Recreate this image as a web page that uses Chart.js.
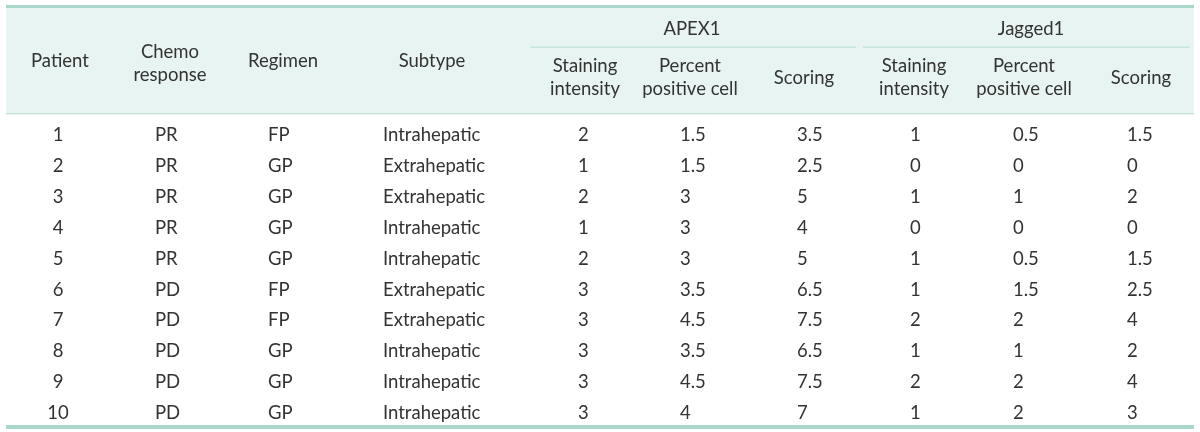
<!DOCTYPE html>
<html>
<head>
<meta charset="utf-8">
<script src="https://cdn.jsdelivr.net/npm/chart.js@4.4.1/dist/chart.umd.min.js"></script>
<style>
  html, body { margin: 0; padding: 0; background: #fff; }
  #wrap { width: 1200px; height: 432px; position: relative; }
</style>
</head>
<body>
<div id="wrap"><canvas id="tbl"></canvas></div>
<script>
// table data
const patients = ['1', '2', '3', '4', '5', '6', '7', '8', '9', '10'];
const chemoResponse = ['PR', 'PR', 'PR', 'PR', 'PR', 'PD', 'PD', 'PD', 'PD', 'PD'];
const regimen = ['FP', 'GP', 'GP', 'GP', 'GP', 'FP', 'FP', 'GP', 'GP', 'GP'];
const subtype = ['Intrahepatic', 'Extrahepatic', 'Extrahepatic', 'Intrahepatic', 'Intrahepatic',
                 'Extrahepatic', 'Extrahepatic', 'Intrahepatic', 'Intrahepatic', 'Intrahepatic'];
const apexStaining = [2, 1, 2, 1, 2, 3, 3, 3, 3, 3];
const apexPercent = [1.5, 1.5, 3, 3, 3, 3.5, 4.5, 3.5, 4.5, 4];
const apexScoring = [3.5, 2.5, 5, 4, 5, 6.5, 7.5, 6.5, 7.5, 7];
const jagStaining = [1, 0, 1, 0, 1, 1, 2, 1, 2, 1];
const jagPercent = [0.5, 0, 1, 0, 0.5, 1.5, 2, 1, 2, 2];
const jagScoring = [1.5, 0, 2, 0, 1.5, 2.5, 4, 2, 4, 3];

const groupLabels = ['APEX1', 'Jagged1'];

// layout (pixel units of the hidden scales)
const FONT = '18.5px Lato';
const TXT = '#333333';
const ROW0 = 141, ROWH = 30.9;
const rowY = i => ROW0 + i * ROWH;

// columns: values, anchor x, alignment
const columns = [
  { values: patients, x: 58, align: 'center', head: ['Patient'], hx: 60 },
  { values: chemoResponse, x: 155, align: 'left', head: ['Chemo', 'response'], hx: 170 },
  { values: regimen, x: 268, align: 'left', head: ['Regimen'], hx: 283 },
  { values: subtype, x: 383, align: 'left', head: ['Subtype'], hx: 432 },
  { values: apexStaining, x: 578, align: 'left', head: ['Staining', 'intensity'], hx: 585 },
  { values: apexPercent, x: 680, align: 'left', head: ['Percent', 'positive cell'], hx: 690 },
  { values: apexScoring, x: 797, align: 'left', head: ['Scoring'], hx: 804 },
  { values: jagStaining, x: 910, align: 'left', head: ['Staining', 'intensity'], hx: 914 },
  { values: jagPercent, x: 1013, align: 'left', head: ['Percent', 'positive cell'], hx: 1024 },
  { values: jagScoring, x: 1127, align: 'left', head: ['Scoring'], hx: 1141 }
];

const datasets = columns.map(col => ({
  data: col.values.map((v, i) => ({ x: col.x, y: rowY(i), label: String(v) })),
  align: col.align,
  pointRadius: 0,
  pointHoverRadius: 0
}));

// background, rules and header
const tablePlugin = {
  id: 'tablePlugin',
  beforeDatasetsDraw(chart) {
    const ctx = chart.ctx;
    const xs = chart.scales.x, ys = chart.scales.y;
    const px = v => xs.getPixelForValue(v);
    const py = v => ys.getPixelForValue(v);
    ctx.save();
    // header band
    ctx.fillStyle = '#e7f4f1';
    ctx.fillRect(px(6), py(8), px(1194) - px(6), py(113) - py(8));
    // thick top / bottom rules
    ctx.fillStyle = '#a9d7cb';
    ctx.fillRect(px(6), py(5), px(1194) - px(6), 3);
    ctx.fillRect(px(6), py(425), px(1194) - px(6), 4);
    // header bottom rule
    ctx.fillStyle = '#c5e4dc';
    ctx.fillRect(px(6), py(113), px(1194) - px(6), 1.5);
    // group sub rules
    ctx.fillRect(px(530), py(46.5), px(856) - px(530), 1.5);
    ctx.fillRect(px(863), py(46.5), px(1190) - px(863), 1.5);

    ctx.fillStyle = TXT;
    ctx.font = FONT;
    ctx.textAlign = 'center';
    ctx.textBaseline = 'alphabetic';
    ctx.fillText(groupLabels[0], px(692), py(35));
    ctx.fillText(groupLabels[1], px(1031), py(35));
    columns.forEach(col => {
      if (col.head.length === 2) {
        const b = col.x < 300 ? 58 : 72;
        ctx.fillText(col.head[0], px(col.hx), py(b));
        ctx.fillText(col.head[1], px(col.hx), py(b + 23));
      } else {
        const b = col.x > 500 ? 84 : 67;
        ctx.fillText(col.head[0], px(col.hx), py(b));
      }
    });
    ctx.restore();
  },
  afterDatasetsDraw(chart) {
    const ctx = chart.ctx;
    ctx.save();
    ctx.fillStyle = TXT;
    ctx.font = FONT;
    ctx.textBaseline = 'alphabetic';
    chart.data.datasets.forEach((ds, di) => {
      ctx.textAlign = ds.align;
      chart.getDatasetMeta(di).data.forEach((pt, i) => {
        ctx.fillText(ds.data[i].label, pt.x, pt.y);
      });
    });
    ctx.restore();
  }
};

new Chart(document.getElementById('tbl'), {
  type: 'scatter',
  data: { datasets: datasets },
  options: {
    responsive: true,
    maintainAspectRatio: false,
    animation: false,
    events: [],
    layout: { padding: 0 },
    plugins: { legend: { display: false }, tooltip: { enabled: false } },
    scales: {
      x: { type: 'linear', min: 0, max: 1200, display: false },
      y: { type: 'linear', min: 0, max: 432, reverse: true, display: false }
    }
  },
  plugins: [tablePlugin]
});
</script>
</body>
</html>
